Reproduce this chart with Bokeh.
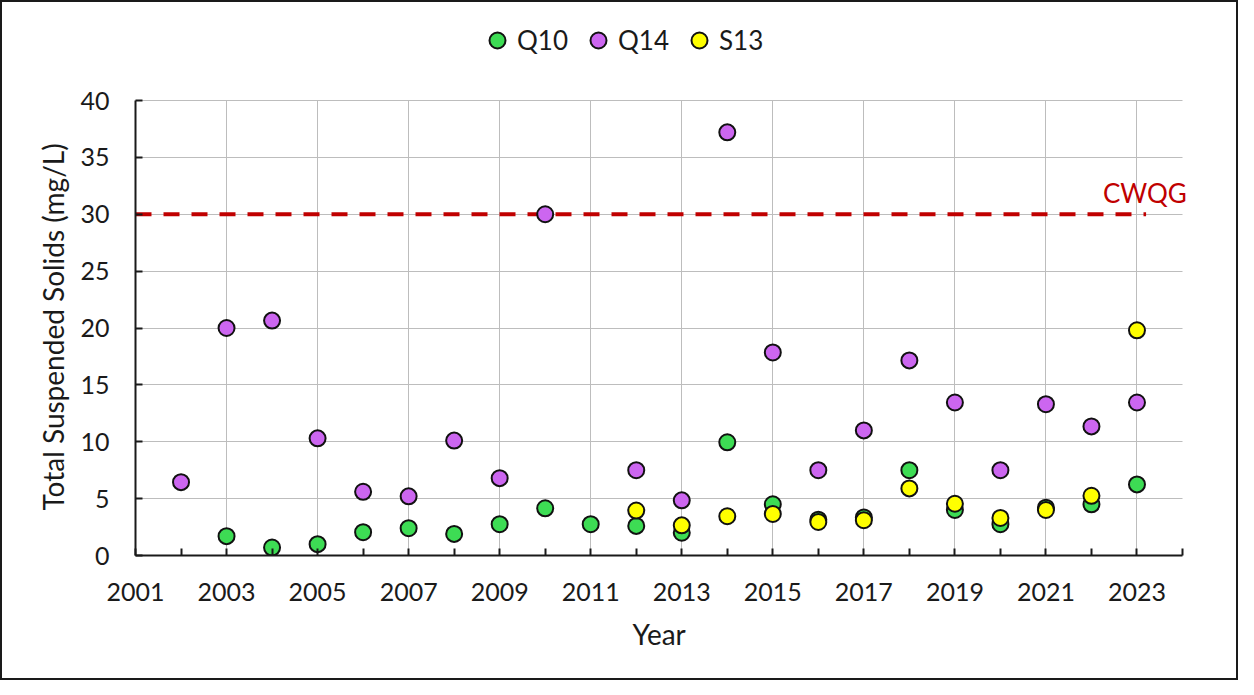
from bokeh.plotting import figure
from bokeh.models import FixedTicker, Legend, LegendItem, Range1d, Grid, Title
from bokeh.embed import file_html
from bokeh.resources import INLINE

# ---- data ----
q10_years = [2003, 2004, 2005, 2006, 2007, 2008, 2009, 2010, 2011, 2012, 2013,
             2014, 2015, 2016, 2017, 2018, 2019, 2020, 2021, 2022, 2023]
q10_vals = [1.7, 0.7, 1.0, 2.05, 2.4, 1.9, 2.75, 4.15, 2.75, 2.6, 2.0,
            9.95, 4.5, 3.15, 3.35, 7.5, 4.0, 2.75, 4.2, 4.5, 6.25]

q14_years = [2002, 2003, 2004, 2005, 2006, 2007, 2008, 2009, 2010, 2012, 2013,
             2014, 2015, 2016, 2017, 2018, 2019, 2020, 2021, 2022, 2023]
q14_vals = [6.45, 20.0, 20.65, 10.3, 5.6, 5.2, 10.1, 6.8, 30.0, 7.5, 4.85,
            37.2, 17.85, 7.5, 11.0, 17.15, 13.45, 7.5, 13.3, 11.35, 13.45]

s13_years = [2012, 2013, 2014, 2015, 2016, 2017, 2018, 2019, 2020, 2021, 2022, 2023]
s13_vals = [3.95, 2.65, 3.45, 3.65, 2.95, 3.1, 5.9, 4.55, 3.3, 4.0, 5.25, 19.8]

cwqg_x = [2001, 2023.2]
cwqg_y = [30, 30]
cwqg_label = "CWQG"

x_title = "Year"
y_title = "Total Suspended Solids (mg/L)"

x_min, x_max = 2001, 2024
y_min, y_max = 0, 40
x_ticks = list(range(2001, 2025))
x_grid_ticks = list(range(2003, 2024, 2))
y_ticks = list(range(0, 45, 5))

series_names = ["Q10", "Q14", "S13"]
series_colors = ["#3ddc54", "#cc66f0", "#ffff00"]

FONT = "Lato"
INK = "#1a1a1a"

# ---- layout geometry (pixels) ----
W, H = 1238, 680
LEFT, RIGHT, TOP, BOTTOM = 133, 10, 10, 127
AXIS_W = 1047          # pixel width of 2001..2024
AXIS_H = 455           # pixel height of 0..40
px_x = AXIS_W / (x_max - x_min)
px_y = AXIS_H / (y_max - y_min)
frame_w = W - LEFT - RIGHT
frame_h = H - TOP - BOTTOM
x_end = x_min + frame_w / px_x
y_end = y_min + frame_h / px_y

p = figure(width=W, height=H,
           x_range=Range1d(x_min, x_end), y_range=Range1d(y_min, y_end),
           output_backend="svg", toolbar_location=None,
           min_border_left=LEFT, min_border_right=RIGHT,
           min_border_top=TOP, min_border_bottom=BOTTOM)
p.styles = {"border": "2px solid " + INK}
p.outline_line_color = None
p.background_fill_color = "white"
p.border_fill_color = "white"

# axes
p.xaxis.ticker = FixedTicker(ticks=x_ticks)
p.xaxis.major_label_overrides = {t: "" for t in x_ticks if (t - 2001) % 2 == 1}
p.yaxis.ticker = FixedTicker(ticks=y_ticks)
p.xaxis.bounds = (x_min, x_max)
p.yaxis.bounds = (y_min, y_max)
for ax in (p.xaxis[0], p.yaxis[0]):
    ax.axis_line_color = INK
    ax.axis_line_width = 2
    ax.major_tick_line_color = INK
    ax.major_tick_line_width = 2
    ax.major_tick_in = 7
    ax.major_tick_out = 0
    ax.minor_tick_line_color = None
    ax.major_label_text_font = FONT
    ax.major_label_text_font_size = "25px"
    ax.major_label_text_color = INK
p.xaxis.major_label_standoff = 27
p.yaxis.major_label_standoff = 26

# axis titles, placed so they centre on the 2001..2024 / 0..40 span
p.add_layout(Title(text=x_title, align="left", offset=497, standoff=22,
                   text_font=FONT, text_font_size="28px", text_font_style="normal",
                   text_color=INK), "below")
p.add_layout(Title(text=y_title, align="left", offset=45, standoff=16,
                   text_font=FONT, text_font_size="28px", text_font_style="normal",
                   text_color=INK), "left")

# grid
GRID_COLOR = "#bdbdbd"
if "cross_bounds" in Grid.properties():
    p.xgrid.ticker = FixedTicker(ticks=x_grid_ticks)
    p.ygrid.ticker = FixedTicker(ticks=y_ticks)
    p.xgrid.cross_bounds = (y_min, y_max)
    p.ygrid.cross_bounds = (x_min, x_max)
    p.xgrid.grid_line_color = GRID_COLOR
    p.ygrid.grid_line_color = GRID_COLOR
else:
    p.xgrid.visible = False
    p.ygrid.visible = False
    p.segment(x0=x_grid_ticks, y0=[y_min] * len(x_grid_ticks),
              x1=x_grid_ticks, y1=[y_max] * len(x_grid_ticks),
              line_color=GRID_COLOR, line_width=1)
    p.segment(x0=[x_min] * len(y_ticks), y0=y_ticks,
              x1=[x_max] * len(y_ticks), y1=y_ticks,
              line_color=GRID_COLOR, line_width=1)

# guideline
cwqg = p.line(cwqg_x, cwqg_y, line_color="#c00000", line_width=4, line_dash="16 12")

# points
renderers = []
for yrs, vals, col in zip([q10_years, q14_years, s13_years],
                          [q10_vals, q14_vals, s13_vals], series_colors):
    r = p.scatter(yrs, vals, size=16, marker="circle", fill_color=col,
                  line_color="#111111", line_width=2)
    renderers.append(r)

legend = Legend(items=[LegendItem(label=n, renderers=[r]) for n, r in zip(series_names, renderers)],
                orientation="horizontal", location=(342, 495),
                glyph_width=40, glyph_height=40, label_standoff=0, spacing=10,
                padding=0, margin=0, border_line_color=None,
                background_fill_alpha=0,
                label_text_font=FONT, label_text_font_size="26px",
                label_text_color=INK)
p.add_layout(legend)

cwqg_legend = Legend(items=[LegendItem(label=cwqg_label, renderers=[cwqg])],
                     location=(968, 346), glyph_width=0, glyph_height=30,
                     label_standoff=0, padding=0, margin=0,
                     border_line_color=None, background_fill_alpha=0,
                     label_text_font=FONT, label_text_font_size="26px",
                     label_text_color="#c00000")
p.add_layout(cwqg_legend)

open("out.html", "w").write(file_html(p, INLINE))
